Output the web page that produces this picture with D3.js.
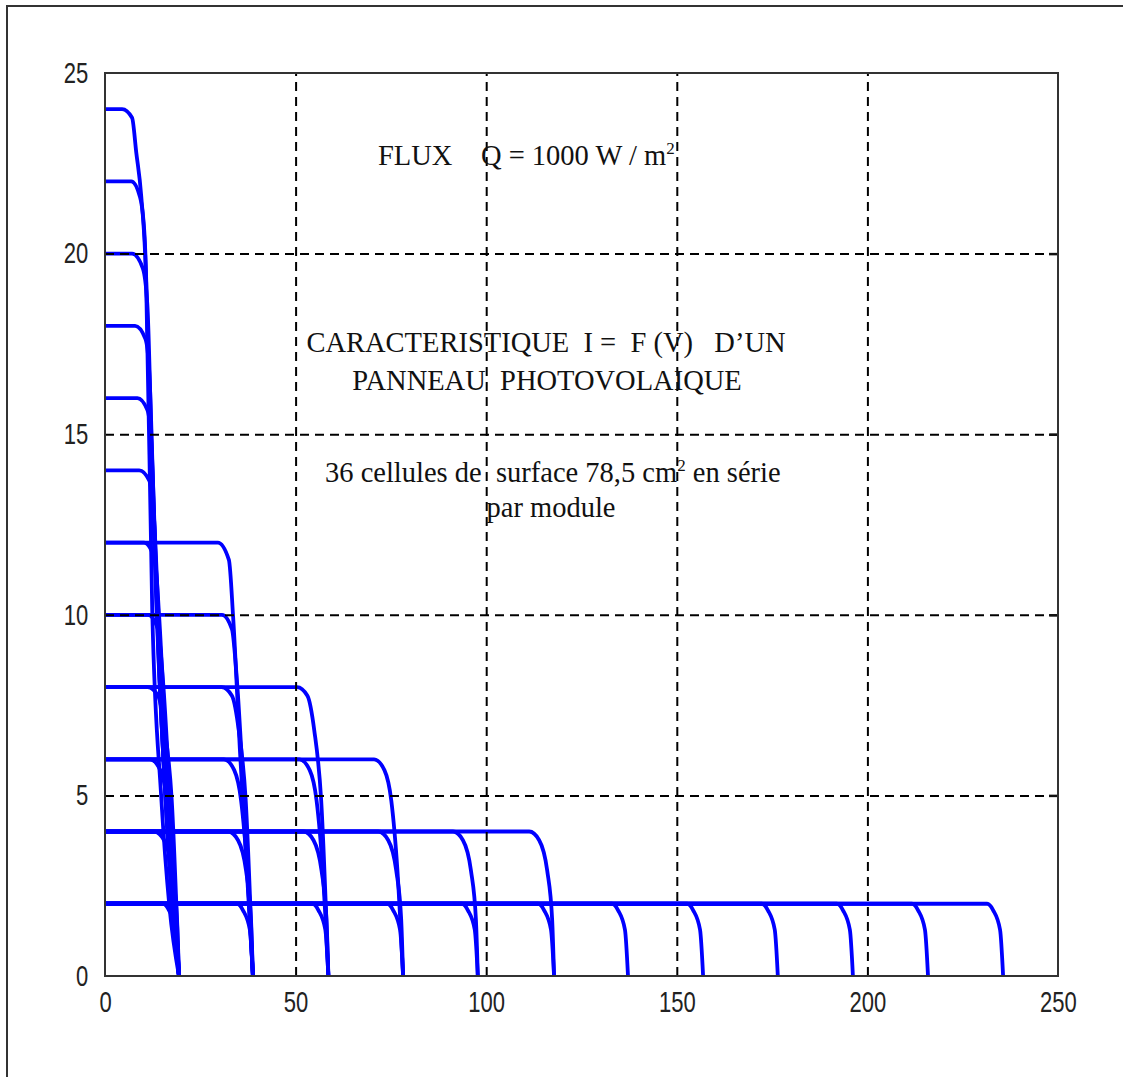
<!DOCTYPE html>
<html>
<head>
<meta charset="utf-8">
<script src="https://cdn.jsdelivr.net/npm/d3@7"></script>
<style>
  body { margin: 0; background: #fff; }
  svg { display: block; }
  .tick-label { font-family: "Liberation Sans", Arial, sans-serif; font-size: 29px; fill: #222; }
  .note { font-family: "Liberation Serif", "DejaVu Serif", serif; font-size: 28.5px; fill: #111; white-space: pre; }
</style>
</head>
<body>
<div id="chart"></div>
<script>
// x axis: tension V (volts), y axis: courant I (amperes)
var xTicks = [0, 50, 100, 150, 200, 250];
var yTicks = [0, 5, 10, 15, 20, 25];
var xGrid = [50, 100, 150, 200];
var yGrid = [5, 10, 15, 20];

// one module short-circuit current, open-circuit voltage for 1..12 modules in series
var moduleIsc = 2.0;
var vocBySeries = [19.4, 38.8, 58.6, 78.2, 97.8, 117.8, 137.2, 156.9, 176.5, 196.2, 215.9, 235.6];

// branches in parallel, and how many modules in series were drawn for each
var parallelCounts = [1, 2, 3, 4, 5, 6, 7, 8, 9, 10, 11, 12];
var seriesCounts = [12, 6, 4, 3, 2, 2, 1, 1, 1, 1, 1, 1];

// knee shape for each parallel count: [volts below Voc, fraction of Isc]
var kneeProfiles = [
  [[4.2, 1], [2.6, 0.91], [0.8, 0.64], [0, 0]],
  [[6.5, 1], [3.9, 0.94], [1.8, 0.73], [0.5, 0.39], [0, 0]],
  [[7.6, 1], [4.9, 0.95], [3.1, 0.81], [1.5, 0.49], [0, 0]],
  [[8.2, 1], [5.5, 0.97], [3.7, 0.85], [1.9, 0.61], [0, 0]],
  [[8.1, 1], [5.5, 0.96], [4.2, 0.82], [2.6, 0.54], [0, 0]],
  [[9.2, 1], [6.3, 0.96], [5.2, 0.83], [3.4, 0.52], [0, 0]],
  [[10.4, 1], [7.8, 0.98], [6.5, 0.9], [5.3, 0.7], [3.9, 0.5], [2.2, 0.25], [0, 0]],
  [[10.9, 1], [8.3, 0.98], [7.3, 0.93], [6.0, 0.7], [4.4, 0.45], [2.5, 0.2], [0, 0]],
  [[11.5, 1], [8.8, 0.98], [7.8, 0.93], [6.5, 0.7], [5.0, 0.45], [2.8, 0.2], [0, 0]],
  [[12.3, 1], [9.5, 0.98], [8.3, 0.93], [7.0, 0.7], [5.4, 0.45], [3.0, 0.2], [0, 0]],
  [[12.5, 1], [10.2, 0.98], [9.0, 0.93], [7.6, 0.7], [5.8, 0.45], [3.2, 0.2], [0, 0]],
  [[14.9, 1], [12.3, 0.99], [11.2, 0.95], [9.9, 0.9], [8.6, 0.8], [7.0, 0.42], [4.7, 0.21], [2.5, 0.08], [0, 0]]
];

var width = 1123;
var height = 1077;
var plot = { left: 105, top: 73, right: 1058, bottom: 976 };

var svg = d3.select("#chart")
  .append("svg")
  .attr("width", width)
  .attr("height", height);

// outer frame of the figure (runs off the right and bottom of the page)
svg.append("rect")
  .attr("x", 7)
  .attr("y", 6)
  .attr("width", 1200)
  .attr("height", 1200)
  .attr("fill", "none")
  .attr("stroke", "#333")
  .attr("stroke-width", 2);

var x = d3.scaleLinear().domain([0, 250]).range([plot.left, plot.right]);
var y = d3.scaleLinear().domain([0, 25]).range([plot.bottom, plot.top]);

// build every I = f(V) curve
var curves = [];
for (var i = 0; i < parallelCounts.length; i++) {
  var isc = parallelCounts[i] * moduleIsc;
  for (var ns = 1; ns <= seriesCounts[i]; ns++) {
    var voc = vocBySeries[ns - 1];
    var pts = [[0, isc]];
    kneeProfiles[i].forEach(function (p) {
      pts.push([voc - p[0], p[1] * isc]);
    });
    curves.push(pts);
  }
}

var line = d3.line()
  .x(function (d) { return x(d[0]); })
  .y(function (d) { return y(d[1]); })
  .curve(d3.curveMonotoneX);

svg.append("g")
  .selectAll("path")
  .data(curves)
  .enter()
  .append("path")
  .attr("d", line)
  .attr("fill", "none")
  .attr("stroke", "#0000ff")
  .attr("stroke-width", 3.8)
  .attr("stroke-linejoin", "round");

// dashed grid
var gridX = svg.append("g")
  .attr("transform", "translate(0," + plot.bottom + ")")
  .call(d3.axisBottom(x).tickValues(xGrid).tickSize(-(plot.bottom - plot.top)).tickFormat(""));
var gridY = svg.append("g")
  .attr("transform", "translate(" + plot.left + ",0)")
  .call(d3.axisLeft(y).tickValues(yGrid).tickSize(-(plot.right - plot.left)).tickFormat(""));
[gridX, gridY].forEach(function (g) {
  g.select(".domain").remove();
  g.selectAll("line")
    .attr("stroke", "#000")
    .attr("stroke-width", 2)
    .attr("stroke-dasharray", "9,6");
});

// short solid ticks on the right edge
var rightTicks = svg.append("g")
  .attr("transform", "translate(" + plot.right + ",0)")
  .call(d3.axisRight(y).tickValues(yGrid).tickSize(-9).tickFormat(""));
rightTicks.select(".domain").remove();
rightTicks.selectAll("line").attr("stroke", "#111").attr("stroke-width", 2.5);

// plot frame
svg.append("rect")
  .attr("x", plot.left)
  .attr("y", plot.top)
  .attr("width", plot.right - plot.left)
  .attr("height", plot.bottom - plot.top)
  .attr("fill", "none")
  .attr("stroke", "#333")
  .attr("stroke-width", 2);

// tick labels, narrow like the original
var xAxis = svg.append("g")
  .attr("transform", "translate(0," + plot.bottom + ")")
  .call(d3.axisBottom(x).tickValues(xTicks).tickSize(0).tickPadding(15));
xAxis.select(".domain").remove();
xAxis.attr("font-size", null).attr("font-family", null);
xAxis.selectAll("text")
  .attr("class", "tick-label")
  .attr("fill", null)
  .attr("dy", "0.71em")
  .attr("transform", "scale(0.76,1)");

var yAxis = svg.append("g")
  .attr("transform", "translate(" + plot.left + ",0)")
  .call(d3.axisLeft(y).tickValues(yTicks).tickSize(0).tickPadding(22));
yAxis.select(".domain").remove();
yAxis.attr("font-size", null).attr("font-family", null);
yAxis.selectAll("text")
  .attr("class", "tick-label")
  .attr("fill", null)
  .attr("transform", "scale(0.76,1)");

// annotations
var flux = svg.append("text").attr("class", "note").attr("x", 378).attr("y", 165);
flux.append("tspan").text("FLUX    Q = 1000 W / m");
flux.append("tspan").attr("dy", -11).attr("font-size", 17).text("2");

svg.append("text").attr("class", "note").attr("x", 546).attr("y", 352)
  .attr("text-anchor", "middle")
  .text("CARACTERISTIQUE  I =  F (V)   D\u2019UN");
svg.append("text").attr("class", "note").attr("x", 547).attr("y", 390)
  .attr("text-anchor", "middle")
  .text("PANNEAU  PHOTOVOLAIQUE");

var cells = svg.append("text").attr("class", "note").attr("x", 325).attr("y", 482);
cells.append("tspan").text("36 cellules de  surface 78,5 cm");
cells.append("tspan").attr("dy", -11).attr("font-size", 17).text("2");
cells.append("tspan").attr("dy", 11).text(" en s\u00e9rie");

svg.append("text").attr("class", "note").attr("x", 551).attr("y", 517)
  .attr("text-anchor", "middle")
  .text("par module");
</script>
</body>
</html>
